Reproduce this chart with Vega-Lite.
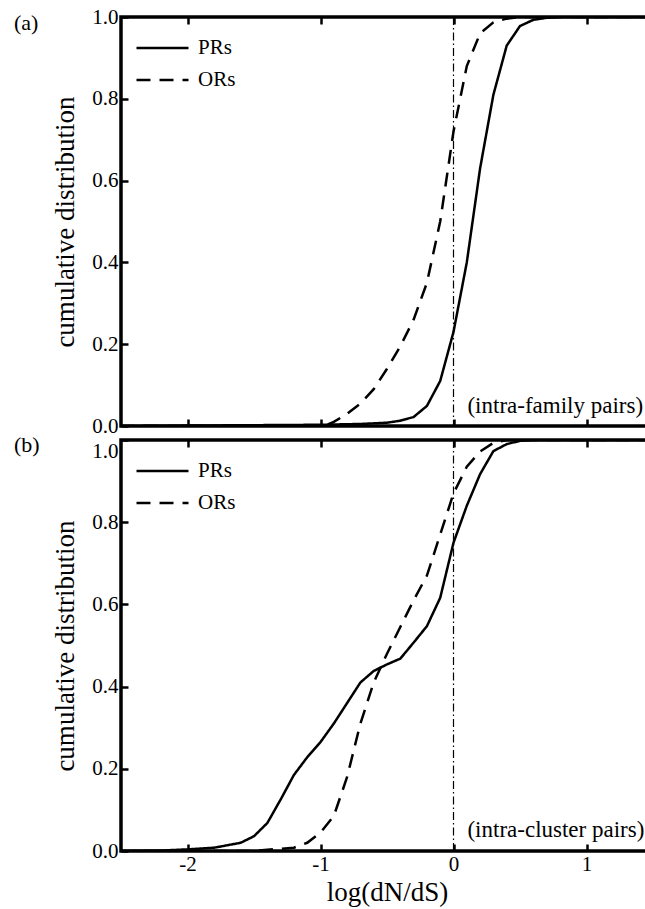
{
  "$schema": "https://vega.github.io/schema/vega-lite/v6.json",
  "background": "white",
  "padding": {"left": 12, "top": 4, "right": 0, "bottom": 0},
  "bounds": "flush",
  "datasets": {
    "cdf": [
      {"panel": "a", "series": "PRs", "x": -2.5, "y": 0},
      {"panel": "a", "series": "PRs", "x": -2.0, "y": 0.001},
      {"panel": "a", "series": "PRs", "x": -1.5, "y": 0.002},
      {"panel": "a", "series": "PRs", "x": -1.0, "y": 0.003},
      {"panel": "a", "series": "PRs", "x": -0.7, "y": 0.005},
      {"panel": "a", "series": "PRs", "x": -0.5, "y": 0.008},
      {"panel": "a", "series": "PRs", "x": -0.4, "y": 0.013},
      {"panel": "a", "series": "PRs", "x": -0.3, "y": 0.022},
      {"panel": "a", "series": "PRs", "x": -0.2, "y": 0.049},
      {"panel": "a", "series": "PRs", "x": -0.1, "y": 0.11},
      {"panel": "a", "series": "PRs", "x": 0.0, "y": 0.23},
      {"panel": "a", "series": "PRs", "x": 0.1, "y": 0.40},
      {"panel": "a", "series": "PRs", "x": 0.2, "y": 0.63},
      {"panel": "a", "series": "PRs", "x": 0.3, "y": 0.81},
      {"panel": "a", "series": "PRs", "x": 0.4, "y": 0.93},
      {"panel": "a", "series": "PRs", "x": 0.5, "y": 0.978},
      {"panel": "a", "series": "PRs", "x": 0.6, "y": 0.993},
      {"panel": "a", "series": "PRs", "x": 0.7, "y": 0.998},
      {"panel": "a", "series": "PRs", "x": 0.8, "y": 1.0},
      {"panel": "a", "series": "PRs", "x": 1.5, "y": 1.0},
      {"panel": "a", "series": "ORs", "x": -2.5, "y": 0},
      {"panel": "a", "series": "ORs", "x": -1.0, "y": 0},
      {"panel": "a", "series": "ORs", "x": -0.95, "y": 0.003},
      {"panel": "a", "series": "ORs", "x": -0.9, "y": 0.01},
      {"panel": "a", "series": "ORs", "x": -0.8, "y": 0.03},
      {"panel": "a", "series": "ORs", "x": -0.7, "y": 0.055},
      {"panel": "a", "series": "ORs", "x": -0.6, "y": 0.09},
      {"panel": "a", "series": "ORs", "x": -0.5, "y": 0.14},
      {"panel": "a", "series": "ORs", "x": -0.4, "y": 0.195},
      {"panel": "a", "series": "ORs", "x": -0.3, "y": 0.26},
      {"panel": "a", "series": "ORs", "x": -0.2, "y": 0.35},
      {"panel": "a", "series": "ORs", "x": -0.1, "y": 0.50},
      {"panel": "a", "series": "ORs", "x": 0.0, "y": 0.72},
      {"panel": "a", "series": "ORs", "x": 0.1, "y": 0.88},
      {"panel": "a", "series": "ORs", "x": 0.2, "y": 0.96},
      {"panel": "a", "series": "ORs", "x": 0.3, "y": 0.987},
      {"panel": "a", "series": "ORs", "x": 0.4, "y": 0.996},
      {"panel": "a", "series": "ORs", "x": 0.5, "y": 1.0},
      {"panel": "a", "series": "ORs", "x": 1.5, "y": 1.0},
      {"panel": "b", "series": "PRs", "x": -2.5, "y": 0},
      {"panel": "b", "series": "PRs", "x": -2.2, "y": 0.001},
      {"panel": "b", "series": "PRs", "x": -2.0, "y": 0.004},
      {"panel": "b", "series": "PRs", "x": -1.8, "y": 0.008},
      {"panel": "b", "series": "PRs", "x": -1.6, "y": 0.02},
      {"panel": "b", "series": "PRs", "x": -1.5, "y": 0.036},
      {"panel": "b", "series": "PRs", "x": -1.4, "y": 0.068},
      {"panel": "b", "series": "PRs", "x": -1.3, "y": 0.125},
      {"panel": "b", "series": "PRs", "x": -1.2, "y": 0.185},
      {"panel": "b", "series": "PRs", "x": -1.1, "y": 0.228},
      {"panel": "b", "series": "PRs", "x": -1.0, "y": 0.265},
      {"panel": "b", "series": "PRs", "x": -0.9, "y": 0.31},
      {"panel": "b", "series": "PRs", "x": -0.8, "y": 0.36},
      {"panel": "b", "series": "PRs", "x": -0.7, "y": 0.41},
      {"panel": "b", "series": "PRs", "x": -0.6, "y": 0.438},
      {"panel": "b", "series": "PRs", "x": -0.5, "y": 0.454},
      {"panel": "b", "series": "PRs", "x": -0.4, "y": 0.468},
      {"panel": "b", "series": "PRs", "x": -0.3, "y": 0.507},
      {"panel": "b", "series": "PRs", "x": -0.2, "y": 0.547},
      {"panel": "b", "series": "PRs", "x": -0.1, "y": 0.616},
      {"panel": "b", "series": "PRs", "x": 0.0, "y": 0.75},
      {"panel": "b", "series": "PRs", "x": 0.1, "y": 0.84},
      {"panel": "b", "series": "PRs", "x": 0.2, "y": 0.917},
      {"panel": "b", "series": "PRs", "x": 0.3, "y": 0.973},
      {"panel": "b", "series": "PRs", "x": 0.4, "y": 0.99},
      {"panel": "b", "series": "PRs", "x": 0.5, "y": 0.998},
      {"panel": "b", "series": "PRs", "x": 0.6, "y": 1.0},
      {"panel": "b", "series": "PRs", "x": 1.5, "y": 1.0},
      {"panel": "b", "series": "ORs", "x": -2.5, "y": 0},
      {"panel": "b", "series": "ORs", "x": -1.5, "y": 0},
      {"panel": "b", "series": "ORs", "x": -1.4, "y": 0.003},
      {"panel": "b", "series": "ORs", "x": -1.2, "y": 0.008},
      {"panel": "b", "series": "ORs", "x": -1.1, "y": 0.02},
      {"panel": "b", "series": "ORs", "x": -1.0, "y": 0.045},
      {"panel": "b", "series": "ORs", "x": -0.9, "y": 0.085},
      {"panel": "b", "series": "ORs", "x": -0.8, "y": 0.18},
      {"panel": "b", "series": "ORs", "x": -0.7, "y": 0.31},
      {"panel": "b", "series": "ORs", "x": -0.6, "y": 0.41},
      {"panel": "b", "series": "ORs", "x": -0.5, "y": 0.48},
      {"panel": "b", "series": "ORs", "x": -0.4, "y": 0.545},
      {"panel": "b", "series": "ORs", "x": -0.3, "y": 0.61},
      {"panel": "b", "series": "ORs", "x": -0.2, "y": 0.67},
      {"panel": "b", "series": "ORs", "x": -0.1, "y": 0.77},
      {"panel": "b", "series": "ORs", "x": 0.0, "y": 0.87},
      {"panel": "b", "series": "ORs", "x": 0.1, "y": 0.935},
      {"panel": "b", "series": "ORs", "x": 0.2, "y": 0.972},
      {"panel": "b", "series": "ORs", "x": 0.3, "y": 0.993},
      {"panel": "b", "series": "ORs", "x": 0.4, "y": 1.0},
      {"panel": "b", "series": "ORs", "x": 1.5, "y": 1.0}
    ]
  },
  "config": {
    "font": "Liberation Serif",
    "view": {"stroke": "black", "strokeWidth": 3.5},
    "axis": {
      "domain": false, "grid": false,
      "tickColor": "black", "tickWidth": 2.5, "tickSize": -7,
      "labelFont": "Liberation Serif", "labelFontSize": 21, "labelColor": "black",
      "titleFont": "Liberation Serif", "titleFontSize": 27, "titleFontWeight": "normal", "titleColor": "black"
    },
    "legend": {
      "orient": "top-left", "offset": 15, "padding": 0,
      "title": null, "clipHeight": 32,
      "symbolType": "stroke", "symbolSize": 2704, "symbolStrokeWidth": 2.5, "symbolStrokeColor": "black", "symbolOffset": -1,
      "labelFont": "Liberation Serif", "labelFontSize": 21, "labelColor": "black", "labelOffset": 8,
      "rowPadding": 0
    }
  },
  "spacing": 14,
  "resolve": {"legend": {"strokeDash": "independent"}},
  "vconcat": [
    {
      "width": 532, "height": 409,
      "resolve": {"axis": {"x": "independent"}},
      "layer": [
        {
          "data": {"name": "cdf"},
          "transform": [{"filter": "datum.panel == 'a'"}],
          "mark": {"type": "line", "color": "black", "strokeWidth": 2.5, "clip": true},
          "encoding": {
            "x": {"field": "x", "type": "quantitative", "scale": {"domain": [-2.5, 1.5], "nice": false}, "axis": {"orient": "bottom", "values": [-2, -1, 0, 1], "labels": false, "title": null}},
            "y": {"field": "y", "type": "quantitative", "scale": {"domain": [0, 1], "nice": false}, "axis": {"values": [0, 0.2, 0.4, 0.6, 0.8, 1.0], "format": ".1f", "labelPadding": 10, "title": "cumulative distribution", "titlePadding": 12}},
            "strokeDash": {"field": "series", "type": "nominal", "scale": {"domain": ["PRs", "ORs"], "range": [[1, 0], [14, 9]]}, "legend": {"title": null}}
          }
        },
        {
          "data": {"values": [{}]},
          "mark": {"type": "rule", "color": "black", "strokeWidth": 1.2, "strokeDash": [8, 3, 1.5, 3]},
          "encoding": {"x": {"datum": 0, "type": "quantitative", "axis": {"orient": "top", "values": [-2, -1, 0, 1], "labels": false, "title": null}}}
        },
        {
          "data": {"values": [{}]},
          "mark": {"type": "text", "align": "left", "baseline": "middle", "fontSize": 23, "font": "Liberation Serif", "color": "black"},
          "encoding": {"x": {"datum": 0.105, "type": "quantitative", "axis": null}, "y": {"datum": 0.05, "type": "quantitative"}, "text": {"value": "(intra-family pairs)"}}
        },
        {
          "data": {"values": [{}]},
          "mark": {"type": "text", "align": "left", "baseline": "middle", "fontSize": 22, "font": "Liberation Serif", "color": "black", "dx": -107, "dy": 6, "clip": false},
          "encoding": {"x": {"datum": -2.5, "type": "quantitative", "axis": null}, "y": {"datum": 1, "type": "quantitative"}, "text": {"value": "(a)"}}
        }
      ]
    },
    {
      "width": 532, "height": 411,
      "resolve": {"axis": {"x": "independent"}},
      "layer": [
        {
          "data": {"name": "cdf"},
          "transform": [{"filter": "datum.panel == 'b'"}],
          "mark": {"type": "line", "color": "black", "strokeWidth": 2.5, "clip": true},
          "encoding": {
            "x": {"field": "x", "type": "quantitative", "scale": {"domain": [-2.5, 1.5], "nice": false}, "axis": {"orient": "bottom", "values": [-2, -1, 0, 1], "labelExpr": "'' + datum.value", "labelPadding": 9, "title": "log(dN/dS)", "titlePadding": 5}},
            "y": {"field": "y", "type": "quantitative", "scale": {"domain": [0, 1], "nice": false}, "axis": {"values": [0, 0.2, 0.4, 0.6, 0.8, 1.0], "format": ".1f", "labelPadding": 10, "labelBaseline": {"condition": {"test": "datum.value == 1", "value": "top"}, "value": "middle"}, "title": "cumulative distribution", "titlePadding": 12}},
            "strokeDash": {"field": "series", "type": "nominal", "scale": {"domain": ["PRs", "ORs"], "range": [[1, 0], [14, 9]]}, "legend": {"title": null}}
          }
        },
        {
          "data": {"values": [{}]},
          "mark": {"type": "rule", "color": "black", "strokeWidth": 1.2, "strokeDash": [8, 3, 1.5, 3]},
          "encoding": {"x": {"datum": 0, "type": "quantitative", "axis": {"orient": "top", "values": [-2, -1, 0, 1], "labels": false, "title": null}}}
        },
        {
          "data": {"values": [{}]},
          "mark": {"type": "text", "align": "left", "baseline": "middle", "fontSize": 23, "font": "Liberation Serif", "color": "black"},
          "encoding": {"x": {"datum": 0.105, "type": "quantitative", "axis": null}, "y": {"datum": 0.05, "type": "quantitative"}, "text": {"value": "(intra-cluster pairs)"}}
        },
        {
          "data": {"values": [{}]},
          "mark": {"type": "text", "align": "left", "baseline": "middle", "fontSize": 22, "font": "Liberation Serif", "color": "black", "dx": -107, "dy": 5, "clip": false},
          "encoding": {"x": {"datum": -2.5, "type": "quantitative", "axis": null}, "y": {"datum": 1, "type": "quantitative"}, "text": {"value": "(b)"}}
        }
      ]
    }
  ]
}
